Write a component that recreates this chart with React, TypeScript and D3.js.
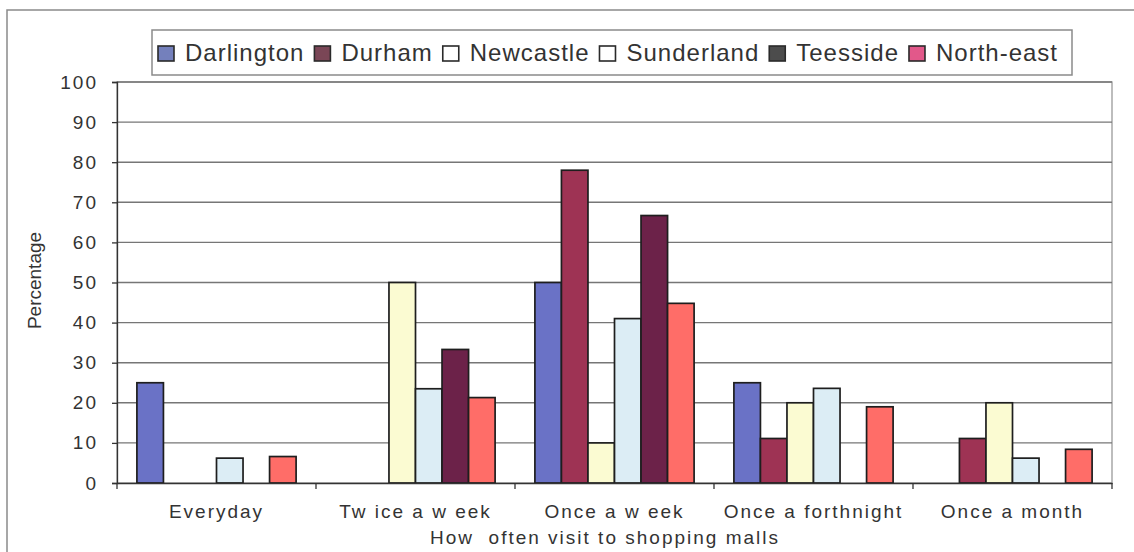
import React, { useEffect, useRef } from "react";
import * as d3 from "d3";

const categories = ["Everyday", "Tw ice a w eek", "Once a w eek", "Once a forthnight", "Once a month"];
const seriesNames = ["Darlington", "Durham", "Newcastle", "Sunderland", "Teesside", "North-east"];
const darlington = [25, 0, 50, 25, 0];
const durham = [0, 0, 78, 11.1, 11.1];
const newcastle = [0, 50, 10, 20, 20];
const sunderland = [6.2, 23.5, 41, 23.6, 6.2];
const teesside = [0, 33.3, 66.7, 0, 0];
const northEast = [6.6, 21.3, 44.8, 19, 8.4];
const seriesValues = [darlington, durham, newcastle, sunderland, teesside, northEast];
const barColors = ["#6a72c6", "#9e3354", "#fbfbd2", "#dcedf5", "#6c2249", "#ff6d68"];
const legendColors = ["#7480bc", "#7a4656", "#ffffff", "#ffffff", "#4c4c4c", "#e2588a"];
const yTicks = [0, 10, 20, 30, 40, 50, 60, 70, 80, 90, 100];
const yTitle = "Percentage";
const xTitle = "How  often visit to shopping malls";

const W = 1134;
const H = 552;
const plot = { left: 117, right: 1112, top: 82, bottom: 483 };
const FONT = "'Liberation Sans', Arial, sans-serif";
const TEXT = "#333";

export default function App() {
  const ref = useRef<SVGSVGElement>(null);

  useEffect(() => {
    const svg = d3.select(ref.current);
    svg.selectAll("*").remove();

    // outer chart border
    svg.append("rect").attr("x", 7).attr("y", 10).attr("width", W + 20).attr("height", H + 20)
      .attr("fill", "#fff").attr("stroke", "#8a8a8a").attr("stroke-width", 1.5);

    const x0 = d3.scaleBand<string>().domain(categories).range([plot.left, plot.right]).paddingInner(0).paddingOuter(0);
    const bwGroup = x0.bandwidth();
    const barW = bwGroup / 7.5;
    const x1 = d3.scaleBand<string>().domain(seriesNames).range([barW * 0.75, bwGroup - barW * 0.75]).padding(0);
    const y = d3.scaleLinear().domain([0, 100]).range([plot.bottom, plot.top]);

    // plot area border
    svg.append("rect").attr("x", plot.left).attr("y", plot.top)
      .attr("width", plot.right - plot.left).attr("height", plot.bottom - plot.top)
      .attr("fill", "#fff").attr("stroke", "#9a9a9a").attr("stroke-width", 1.3);

    // gridlines
    svg.append("g").selectAll("line").data(yTicks.filter((t) => t > 0)).join("line")
      .attr("x1", plot.left).attr("x2", plot.right)
      .attr("y1", (d) => y(d)).attr("y2", (d) => y(d))
      .attr("stroke", "#767676").attr("stroke-width", 1.4);

    // bars
    const g = svg.append("g");
    categories.forEach((c, ci) => {
      seriesNames.forEach((s, si) => {
        const v = seriesValues[si][ci];
        if (v <= 0) return;
        g.append("rect")
          .attr("x", (x0(c) as number) + (x1(s) as number))
          .attr("y", y(v))
          .attr("width", x1.bandwidth())
          .attr("height", y(0) - y(v))
          .attr("fill", barColors[si])
          .attr("stroke", "#1e1e1e").attr("stroke-width", 1.7);
      });
    });

    // y axis
    const yAxis = svg.append("g").attr("transform", `translate(${plot.left},0)`)
      .call(d3.axisLeft(y).tickValues(yTicks).tickSize(5).tickPadding(14).tickFormat(d3.format("d")));
    yAxis.select(".domain").attr("stroke", "#333").attr("stroke-width", 1.3);
    yAxis.selectAll(".tick line").attr("stroke", "#333").attr("stroke-width", 1.3);
    yAxis.selectAll(".tick text").attr("fill", TEXT).attr("font-size", 19).attr("font-family", FONT)
      .attr("letter-spacing", 2);

    // x axis
    const xAxis = svg.append("g").attr("transform", `translate(0,${plot.bottom})`)
      .call(d3.axisBottom(x0).tickSize(0).tickPadding(22));
    xAxis.select(".domain").attr("stroke", "#333").attr("stroke-width", 1.3);
    xAxis.selectAll(".tick text").attr("fill", TEXT).attr("font-size", 19).attr("font-family", FONT)
      .attr("letter-spacing", 2).style("white-space", "pre");
    // category boundary ticks
    const bounds = categories.map((c) => x0(c) as number).concat([plot.right]);
    svg.append("g").selectAll("line").data(bounds).join("line")
      .attr("x1", (d) => d).attr("x2", (d) => d).attr("y1", plot.bottom).attr("y2", plot.bottom + 6)
      .attr("stroke", "#333").attr("stroke-width", 1.3);

    // titles
    svg.append("text").attr("x", 605).attr("y", 544).attr("text-anchor", "middle")
      .attr("font-size", 19).attr("font-family", FONT).attr("fill", TEXT).attr("letter-spacing", 2)
      .style("white-space", "pre").text(xTitle);
    svg.append("text").attr("transform", `translate(41,${(plot.top + plot.bottom) / 2 - 2}) rotate(-90)`)
      .attr("text-anchor", "middle").attr("font-size", 19).attr("font-family", FONT).attr("fill", TEXT)
      .text(yTitle);

    // legend
    const leg = svg.append("g");
    leg.append("rect").attr("x", 152).attr("y", 30).attr("width", 920).attr("height", 45)
      .attr("fill", "#fff").attr("stroke", "#8a8a8a").attr("stroke-width", 1.5);
    let lx = 158;
    seriesNames.forEach((s, i) => {
      leg.append("rect").attr("x", lx).attr("y", 46).attr("width", 16).attr("height", 15)
        .attr("fill", legendColors[i]).attr("stroke", "#2a2a2a").attr("stroke-width", 1.6);
      const t = leg.append("text").attr("x", lx + 27).attr("y", 61).attr("font-size", 24)
        .attr("font-family", FONT).attr("fill", TEXT).attr("letter-spacing", 1).text(s);
      const w = (t.node() as SVGTextElement).getComputedTextLength();
      lx = lx + 27 + w + 10;
    });
  }, []);

  return (
    <svg ref={ref} width={W} height={H} style={{ display: "block", position: "absolute", left: 0, top: 0 }} />
  );
}
